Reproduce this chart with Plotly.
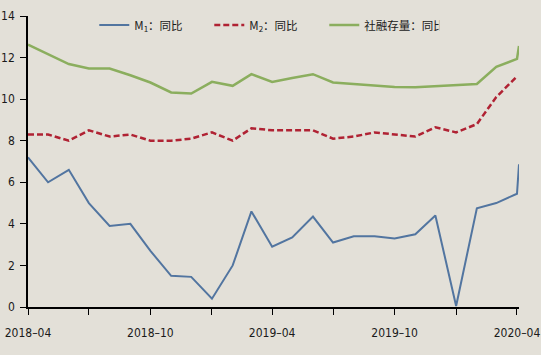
import plotly.graph_objects as go

months = ["2018-04-01", "2018-05-01", "2018-06-01", "2018-07-01", "2018-08-01", "2018-09-01",
          "2018-10-01", "2018-11-01", "2018-12-01", "2019-01-01", "2019-02-01", "2019-03-01",
          "2019-04-01", "2019-05-01", "2019-06-01", "2019-07-01", "2019-08-01", "2019-09-01",
          "2019-10-01", "2019-11-01", "2019-12-01", "2020-01-01", "2020-02-01", "2020-03-01",
          "2020-04-01"]
extra_date = ["2020-04-04"]

m1 = [7.2, 6.0, 6.6, 5.0, 3.9, 4.0, 2.7, 1.5, 1.45, 0.4, 2.0, 4.6,
      2.9, 3.35, 4.35, 3.1, 3.4, 3.4, 3.3, 3.5, 4.4, 0.05, 4.75, 5.0,
      5.45, 6.87]
m2 = [8.3, 8.3, 8.0, 8.5, 8.2, 8.3, 8.0, 8.0, 8.1, 8.4, 8.0, 8.6,
      8.5, 8.5, 8.5, 8.1, 8.2, 8.4, 8.3, 8.2, 8.65, 8.4, 8.8, 10.1,
      11.1]
tsf = [12.62, 12.15, 11.69, 11.47, 11.47, 11.15, 10.8, 10.32, 10.27, 10.83, 10.64, 11.2,
       10.83, 11.02, 11.2, 10.8, 10.72, 10.65, 10.58, 10.57, 10.62, 10.68, 10.73, 11.55,
       11.94, 12.56]

major_ticks = ["2018-04-01", "2018-10-01", "2019-04-01", "2019-10-01", "2020-04-01"]
major_text = ["2018–04", "2018–10", "2019–04", "2019–10", "2020–04"]
minor_ticks = ["2018-07-01", "2019-01-01", "2019-07-01", "2020-01-01"]

names = ["M<sub>1</sub>：同比", "M<sub>2</sub>：同比", "社融存量：同比"]

BG = "#E3E0D8"
FONT = "Liberation Sans Narrow, Arial Narrow, DejaVu Sans Condensed, sans-serif"

fig = go.Figure()
fig.add_trace(go.Scatter(x=months + extra_date, y=m1, mode="lines", name=names[0],
                         line=dict(color="#5275A0", width=2)))
fig.add_trace(go.Scatter(x=months, y=m2, mode="lines", name=names[1],
                         line=dict(color="#B02233", width=2.5, dash="6px,3px")))
fig.add_trace(go.Scatter(x=months + extra_date, y=tsf, mode="lines", name=names[2],
                         line=dict(color="#8BAE5E", width=2.5)))

fig.update_layout(
    width=541, height=355,
    margin=dict(l=28, r=22, t=16, b=48, autoexpand=False),
    paper_bgcolor=BG, plot_bgcolor=BG,
    font=dict(family=FONT, size=12, color="#1a1a1a"),
    showlegend=True,
    legend=dict(orientation="h", x=0.135, y=0.969, xanchor="left", yanchor="middle",
                bgcolor="rgba(0,0,0,0)", entrywidth=70, entrywidthmode="pixels",
                font=dict(family="Liberation Sans Narrow, Noto Sans CJK SC, sans-serif", size=11.5),
                itemwidth=30),
    xaxis=dict(type="date", range=["2018-04-01", "2020-04-04"], automargin=False,
               tickmode="array", tickvals=major_ticks, ticktext=major_text,
               ticks="outside", ticklen=6, tickcolor="black", tickwidth=1,
               minor=dict(tickmode="array", tickvals=minor_ticks, ticks="outside",
                          ticklen=6, tickcolor="black", tickwidth=1, showgrid=False),
               showline=True, linecolor="black", linewidth=1.5,
               showgrid=False, zeroline=False, ticklabelstandoff=8,
               tickfont=dict(family=FONT, size=12, color="#1a1a1a")),
    yaxis=dict(range=[0, 14], tickmode="linear", tick0=0, dtick=2, automargin=False,
               ticks="outside", ticklen=6, tickcolor="black", tickwidth=1,
               showline=True, linecolor="black", linewidth=1.5,
               showgrid=False, zeroline=False, ticklabelstandoff=3,
               tickfont=dict(family=FONT, size=12, color="#1a1a1a")),
)

fig.write_html("out.html", config={"displayModeBar": False},
               post_script="document.body.style.margin='0';document.body.style.background='%s';" % BG)
